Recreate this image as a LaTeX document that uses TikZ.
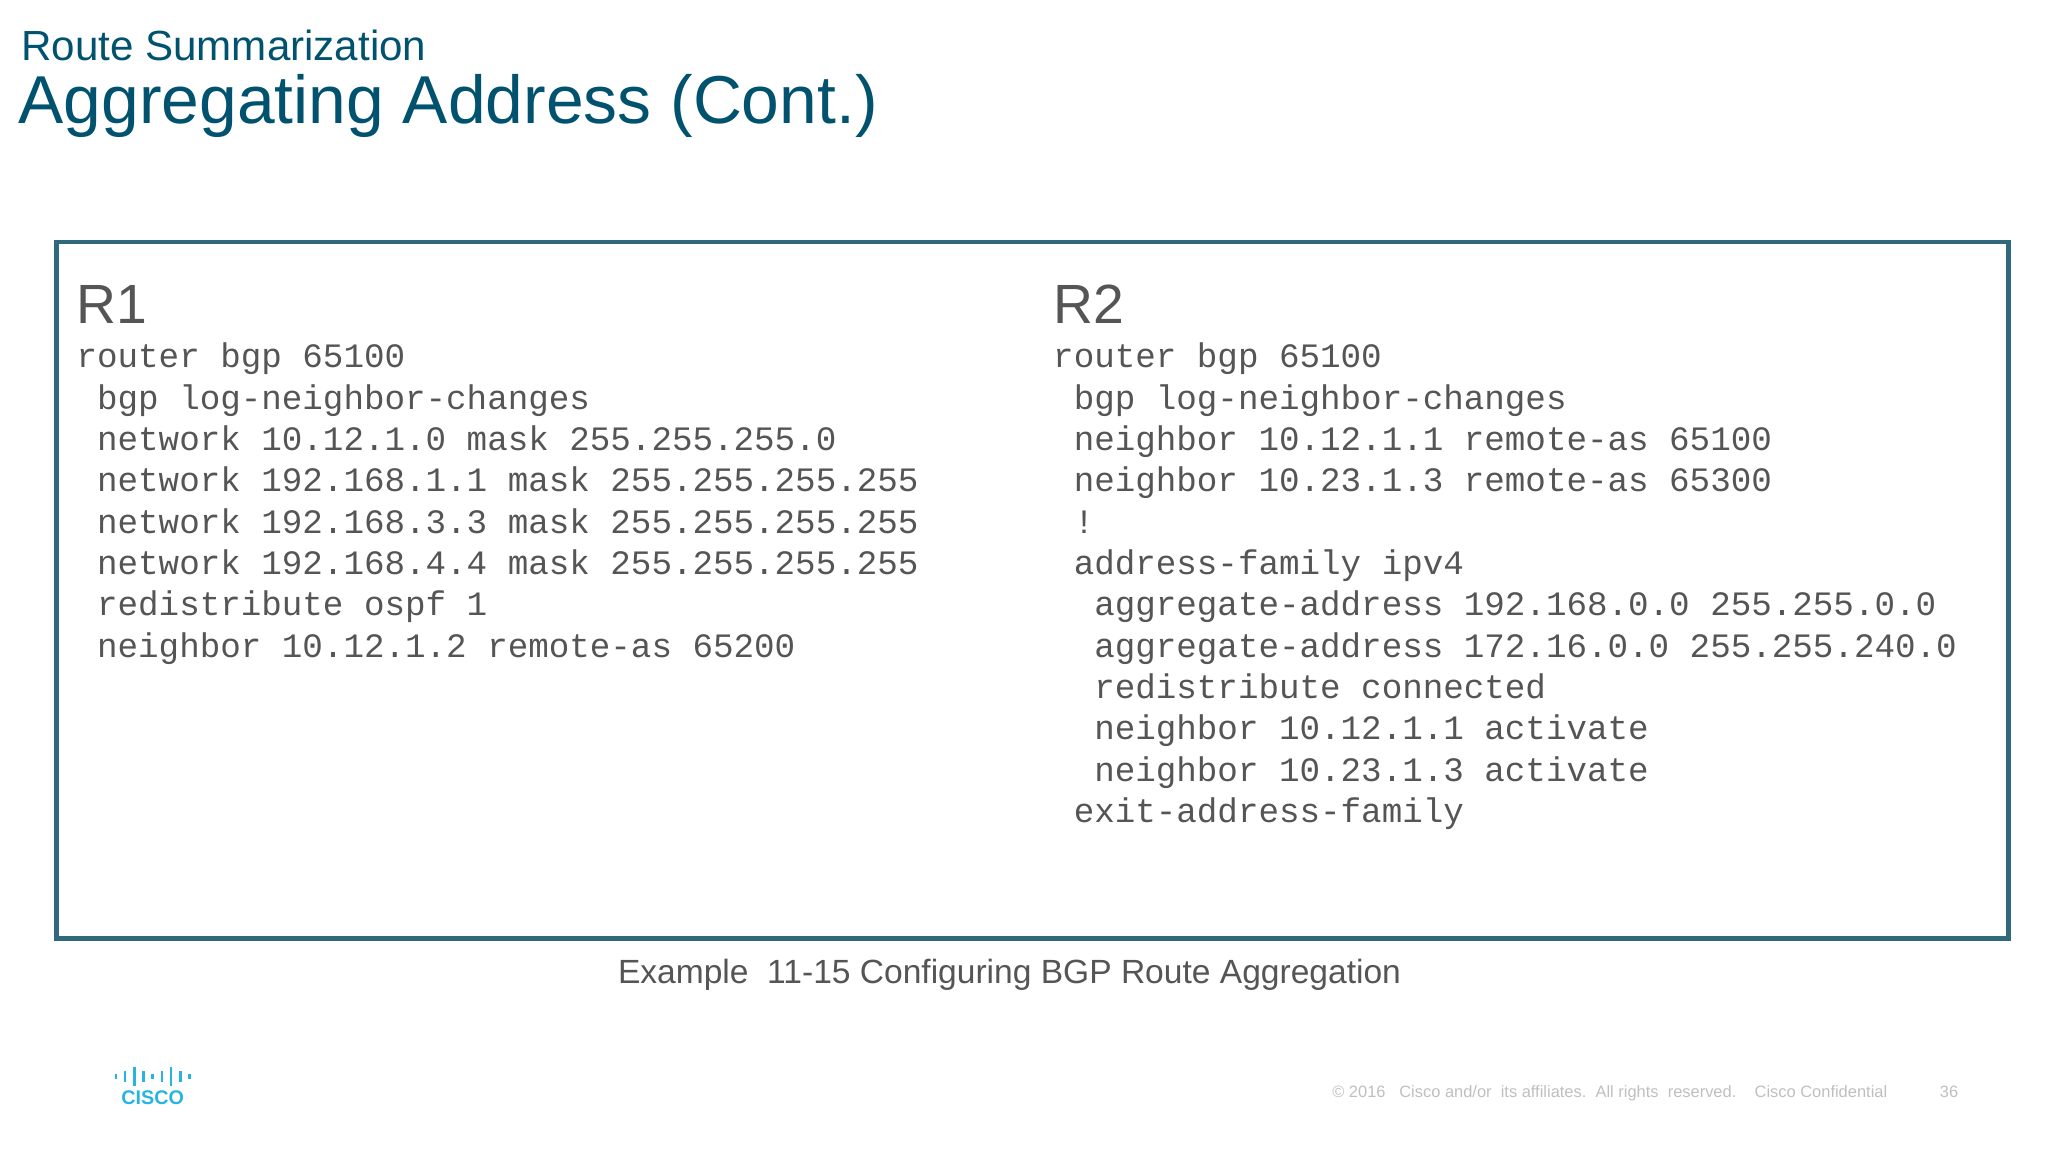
\documentclass[tikz,border=0pt]{standalone}
\usepackage{fontspec}
\setmainfont{Liberation Sans}
\setmonofont{Liberation Mono}
\definecolor{ttl}{RGB}{0,82,110}
\definecolor{frm}{RGB}{48,104,124}
\definecolor{code}{RGB}{85,85,85}
\definecolor{cis}{RGB}{40,180,225}
\begin{document}
\begin{tikzpicture}[x=1pt,y=-1pt,
  cl/.style={anchor=base west,inner sep=0,font=\fontsize{26}{26}\selectfont\ttfamily,text=code},
  hd/.style={anchor=base west,inner sep=0,font=\fontsize{42}{42}\selectfont,text=code}]
\useasboundingbox (0,0) rectangle (1556,876);
\node[anchor=base west,inner sep=0,text=ttl,font=\fontsize{32}{32}\selectfont] (t1) at (16,46) {Route Summarization};
\node[anchor=base west,inner sep=0,text=ttl,font=\fontsize{51.5}{51.5}\selectfont] (t2) at (14,94) {Aggregating Address (Cont.)};
\draw[frm,line width=3.5pt] (43,184) rectangle (1526,713);
\node[hd] (r1) at (58,246) {R1};
\node[hd] (r2) at (800,246) {R2};
\foreach \n/\t [count=\i] in {0/router bgp 65100, 1/bgp log-neighbor-changes, 1/network 10.12.1.0 mask 255.255.255.0, 1/network 192.168.1.1 mask 255.255.255.255, 1/network 192.168.3.3 mask 255.255.255.255, 1/network 192.168.4.4 mask 255.255.255.255, 1/redistribute ospf 1, 1/neighbor 10.12.1.2 remote-as 65200}
  \node[cl] (a\i) at ({58+15.6*\n},{248+31.4*\i}) {\t};
\foreach \n/\t [count=\i] in {0/router bgp 65100, 1/bgp log-neighbor-changes, 1/neighbor 10.12.1.1 remote-as 65100, 1/neighbor 10.23.1.3 remote-as 65300, 1/!, 1/address-family ipv4, 2/aggregate-address 192.168.0.0 255.255.0.0, 2/aggregate-address 172.16.0.0 255.255.240.0, 2/redistribute connected, 2/neighbor 10.12.1.1 activate, 2/neighbor 10.23.1.3 activate, 1/exit-address-family}
  \node[cl] (b\i) at ({800+15.6*\n},{248+31.4*\i}) {\t};
\node[anchor=base,inner sep=0,text=code,font=\fontsize{25.5}{25.5}\selectfont] (cap) at (767,747) {Example\ \ 11-15 Configuring BGP Route Aggregation};
% cisco logo
\foreach \x/\h in {88/4,95/8,102/14,109/8,116/4,123/8,130/14,137/8,144/4}
  \draw[cis,line width=2pt] (\x,{818-\h/2}) -- (\x,{818+\h/2});
\node[anchor=base,inner sep=0,text=cis,font=\fontsize{15}{15}\selectfont\bfseries] (logo) at (116,839) {CISCO};
\node[anchor=base east,inner sep=0,text=black!25,font=\fontsize{12.5}{12.5}\selectfont] (foot) at (1488,834) {© 2016\ \ \ Cisco and/or\ \ its affiliates.\ \ All rights\ \ reserved.\ \ \ \ Cisco Confidential\hspace{40pt}36};
\end{tikzpicture}
\end{document}
